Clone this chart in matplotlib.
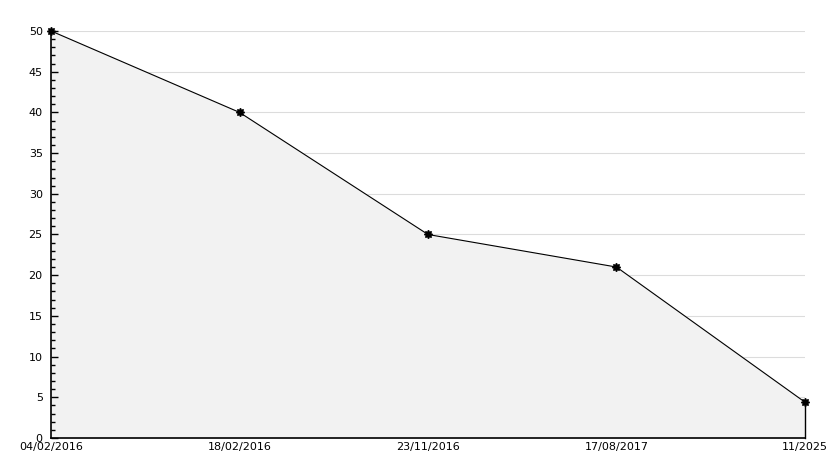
import numpy as np
import matplotlib.pyplot as plt
from matplotlib.ticker import MultipleLocator

dates = ['04/02/2016', '18/02/2016', '23/11/2016', '17/08/2017', '11/2025']
values = [50, 40, 25, 21, 4.4]

fig = plt.figure(figsize=(8.34, 4.68), dpi=100)
ax = fig.add_axes([0.0612, 0.0641, 0.9040, 0.8697])

x = np.arange(len(dates))
# grid under the fill, ticks above it
for yv in range(5, 51, 5):
    ax.axhline(yv, color='#dcdcdc', lw=0.8, zorder=0)
ax.fill_between(x, values, 0, color='#f2f2f2', zorder=1)
ax.plot(x, values, color='black', lw=0.8, zorder=3, clip_on=False)
ax.plot([x[-1], x[-1]], [0, values[-1]], color='black', lw=1, zorder=3, clip_on=False)
ax.plot(x, values, ls='none', marker=(8, 1, 0), ms=6, color='black', zorder=4, clip_on=False)

ax.set_xlim(x[0], x[-1])
ax.set_ylim(0, 50)
ax.set_xticks(x)
ax.set_xticklabels(dates)
ax.yaxis.set_major_locator(MultipleLocator(5))
ax.yaxis.set_minor_locator(MultipleLocator(1))
ax.set_axisbelow(False)

for s in ['top', 'right']:
    ax.spines[s].set_visible(False)
ax.spines['left'].set_linewidth(1.2)
ax.spines['bottom'].set_linewidth(1.2)

ax.tick_params(axis='y', which='major', direction='in', length=5, width=1, labelsize=8, pad=6)
ax.tick_params(axis='y', which='minor', direction='in', length=3, width=1)
ax.tick_params(axis='x', length=0, labelsize=8, pad=3)

fig.savefig('out.png', dpi=100)
